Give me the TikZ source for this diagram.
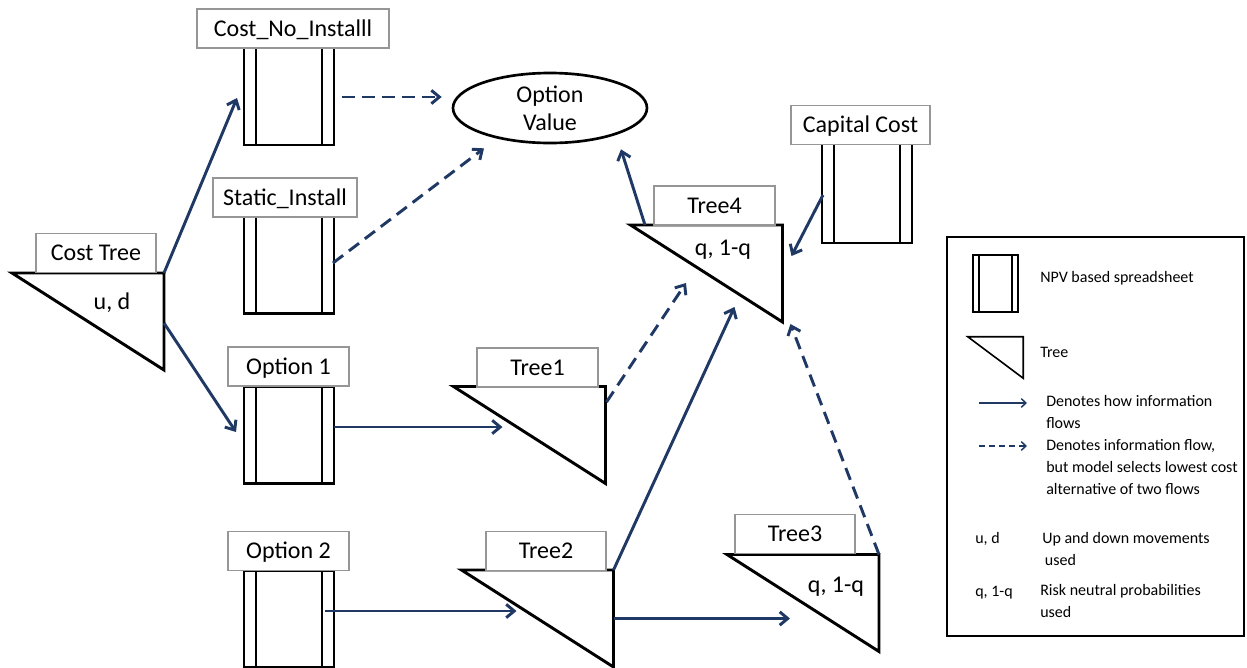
\documentclass[tikz,border=0pt]{standalone}
\usepackage{fontspec}
\setmainfont{Carlito}
\usetikzlibrary{arrows.meta,shapes.geometric,calc}
\definecolor{flowblue}{RGB}{31,56,100}
\definecolor{labelgray}{RGB}{150,150,150}

% right-angled tree symbol inside the box of a named node
\newcommand\drawtree[2][2.2pt]{\draw[line width=#1, draw=black] (#2.north west) -- (#2.north east) -- (#2.south east) -- cycle;}

\begin{document}
\begin{tikzpicture}[x=0.75pt,y=-0.75pt,
  bigfont/.style={font=\fontsize{18}{21}\selectfont},
  smallfont/.style={font=\fontsize{12}{16.5}\selectfont},
  treebox/.style={rectangle, inner sep=0pt, outer sep=0pt, minimum width=114pt, minimum height=72.75pt},
  sheet/.style={rectangle, draw=black, line width=2.2pt, inner sep=0pt, outer sep=0pt,
    minimum width=67.5pt, minimum height=72.75pt,
    path picture={\draw[line width=2.2pt]
      ([xshift=9pt]path picture bounding box.north west) -- ([xshift=9pt]path picture bounding box.south west)
      ([xshift=-9pt]path picture bounding box.north east) -- ([xshift=-9pt]path picture bounding box.south east);}},
  labelbox/.style={rectangle, draw=labelgray, line width=0.9pt, fill=white, inner sep=0pt,
    text height=11.6pt, text depth=0pt, minimum height=29.25pt, bigfont},
  flow/.style={draw=flowblue, line width=2.2pt, -{Straight Barb[length=6pt,width=10pt]}},
  altflow/.style={flow, dash pattern=on 9.5pt off 5.5pt},
  legflow/.style={draw=flowblue, line width=1.1pt, -{Straight Barb[length=3.5pt,width=6.5pt]}},
  legalt/.style={legflow, dash pattern=on 4.5pt off 3pt},
  legtext/.style={smallfont, anchor=base west, align=left, inner sep=0pt},
  param/.style={bigfont, anchor=base, inner sep=0pt}
]
\useasboundingbox (0,0) rectangle (1247,668);

% ---------- trees ----------
\node[treebox] (costtree) at (88,321.5) {};
\node[treebox] (tree4) at (706.5,273.5) {};
\node[treebox] (tree1) at (529.5,435) {};
\node[treebox] (tree2) at (537.5,618.5) {};
\node[treebox] (tree3) at (803,603) {};
\drawtree{costtree}
\drawtree{tree4}
\drawtree{tree1}
\drawtree{tree2}
\drawtree{tree3}

\node[param] (ud) at (112,309) {u, d};
\node[param] (q4) at (723,255) {q, 1-q};
\node[param] (q3) at (836,592) {q, 1-q};

% ---------- spreadsheets ----------
\node[sheet] (cni) at (289,96.5) {};
\node[sheet] (static) at (289,265) {};
\node[sheet] (opt1) at (289,435) {};
\node[sheet] (opt2) at (289,619) {};
\node[sheet, minimum height=74.25pt] (cap) at (867,193.5) {};

% ---------- option value ----------
\node[ellipse, draw=black, line width=2pt, minimum width=145.5pt, minimum height=52.5pt,
  inner sep=0pt, align=center, bigfont] (ov) at (550,108) {Option\\Value};

% ---------- title boxes ----------
\node[labelbox, minimum width=144pt] (lcni) at (293,28.5) {Cost\_No\_Installl};
\node[labelbox, minimum width=108pt] (lstatic) at (285,197.5) {Static\_Install};
\node[labelbox, minimum width=90.75pt] (lopt1) at (288.5,366.5) {Option 1};
\node[labelbox, minimum width=90.75pt] (lopt2) at (288.5,551) {Option 2};
\node[labelbox, minimum width=104.25pt] (lcap) at (860.5,125) {Capital Cost};
\node[labelbox, minimum width=90pt] (lcost) at (96,253) {Cost Tree};
\node[labelbox, minimum width=90.75pt] (ltree4) at (714.5,205.5) {Tree4};
\node[labelbox, minimum width=90.75pt] (ltree1) at (537.5,367.5) {Tree1};
\node[labelbox, minimum width=90pt] (ltree2) at (546,551) {Tree2};
\node[labelbox, minimum width=90pt] (ltree3) at (795,534) {Tree3};

% ---------- information flows ----------
\draw[flow] (costtree.north east) -- ([shift={(-7,1.5)}]cni.west);
\draw[flow] ([shift={(0,1.5)}]costtree.east) -- ([shift={(-8,-3)}]opt1.west);
\draw[altflow] ([shift={(8,0.5)}]cni.east) -- ([shift={(-10,-11)}]ov.west);
\draw[altflow] ([shift={(-1,-2)}]static.east) -- ([shift={(-66,4)}]ov.south);
\draw[flow] ([shift={(0,-8)}]opt1.east) -- ([shift={(49,-8)}]tree1.west);
\draw[altflow] ([shift={(1,-33)}]tree1.east) -- ([shift={(-20.5,-39)}]tree4.south);
\draw[flow] (tree2.north east) -- ([shift={(-48,-15)}]tree4.south east);
\draw[flow] ([shift={(-9,-8)}]opt2.east) -- ([shift={(55,-7.5)}]tree2.west);
\draw[flow] (tree2.east) -- ([shift={(63,15.5)}]tree3.west);
\draw[altflow] (tree3.north east) -- ([shift={(8,2)}]tree4.south east);
\draw[flow] ([shift={(14.5,0)}]tree4.north west) -- ([shift={(71,5)}]ov.south);
\draw[flow] ([shift={(1,1.5)}]cap.west) -- ([shift={(9,-17.5)}]tree4.east);

% ---------- legend ----------
\node[draw=black, line width=1.1pt, minimum width=222.75pt, minimum height=299.25pt, inner sep=0pt] (legend) at (1095.5,436.5) {};

\node[rectangle, draw=black, line width=1.2pt, inner sep=0pt, minimum width=33.75pt, minimum height=42.75pt,
  path picture={\draw[line width=1.2pt]
    ([xshift=4.5pt]path picture bounding box.north west) -- ([xshift=4.5pt]path picture bounding box.south west)
    ([xshift=-4.5pt]path picture bounding box.north east) -- ([xshift=-4.5pt]path picture bounding box.south east);}]
  (legsheet) at (995.5,283.5) {};
\node[legtext] (tsheet) at (1040,282) {NPV based spreadsheet};

\node[rectangle, inner sep=0pt, minimum width=41.25pt, minimum height=30.75pt] (legtree) at (995.5,357.5) {};
\drawtree[1.2pt]{legtree}
\node[legtext] (ttree) at (1040,357) {Tree};

% multi-line entries are placed by the baseline of their last line
\coordinate (lsolA) at (979,403);
\coordinate (lsolB) at (1027,403);
\draw[legflow] (lsolA) -- (lsolB);
\node[legtext] (tsol) at (1046,428) {Denotes how information\\flows};

\coordinate (laltA) at (979,446);
\coordinate (laltB) at (1027,446);
\draw[legalt] (laltA) -- (laltB);
\node[legtext] (talt) at (1046,494) {Denotes information flow,\\but model selects lowest cost\\alternative of two flows};

\node[legtext] (kud) at (975,543) {u, d};
\node[legtext] (tud) at (1042,565) {Up and down movements\\\hspace{2pt}used};
\node[legtext] (kq) at (975,596) {q, 1-q};
\node[legtext] (tq) at (1040,617) {Risk neutral probabilities\\used};
\end{tikzpicture}
\end{document}
